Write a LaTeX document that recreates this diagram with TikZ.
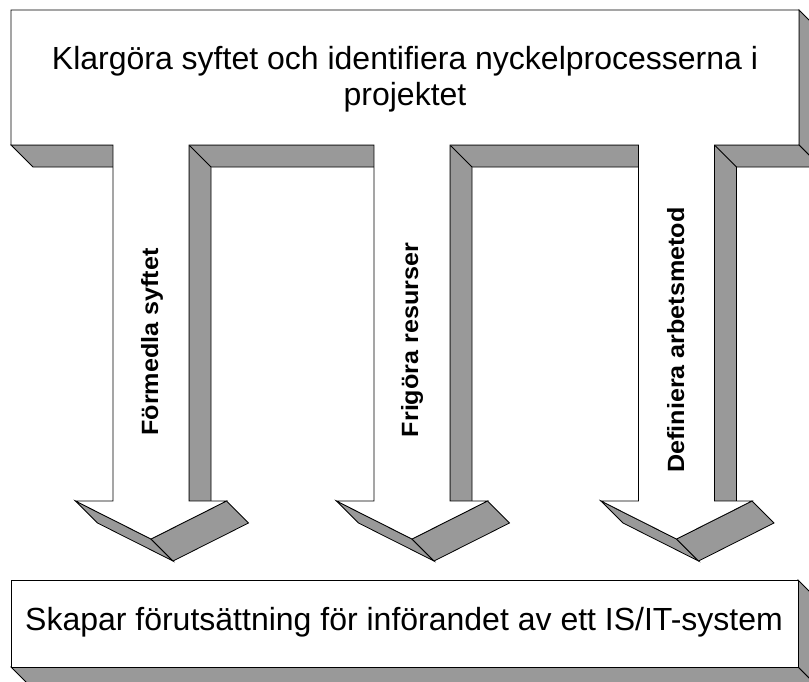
\documentclass[tikz,border=0pt]{standalone}
\usepackage{fontspec}
\setmainfont{Liberation Sans}
\definecolor{facegray}{RGB}{153,153,153}
\newcommand{\widetext}[1]{\scalebox{1.07}[1.0]{#1}}
\begin{document}
\begin{tikzpicture}[x=1pt,y=-1pt,
  face/.style={fill=facegray,draw=black,line width=0.8pt},
  front/.style={fill=white,draw=black,line width=0.8pt},
  titletext/.style={font=\fontsize{32}{36}\selectfont, align=center, inner sep=0pt},
  flowlabel/.style={font=\bfseries\fontsize{23.5}{28}\selectfont, rotate=90, anchor=base, inner sep=0pt}]
\useasboundingbox (0,0) rectangle (809,681);
\clip (0,0) rectangle (809,681);
% upper block: right side and underside
\draw[face] (799,10) -- (821,32) -- (821,167) -- (799,145) -- cycle;
\draw[face] (11,145) -- (33,167) -- (821,167) -- (799,145) -- cycle;
% shaft side faces and arrowhead undersides
\foreach \c in {151,412,676.5} {
  \draw[face] (\c+38,145) -- (\c+60,167) -- (\c+60,523) -- (\c+38,501) -- cycle;
  \draw[face] (\c-75.5,501) -- (\c,539) -- (\c+22,561) -- (\c-53.5,523) -- cycle;
  \draw[face] (\c,539) -- (\c+75.5,501) -- (\c+97.5,523) -- (\c+22,561) -- cycle;
}
% front face: block with three arrows
\draw[front] (11,10) -- (799,10) -- (799,145) -- (714.5,145) -- (714.5,501)
  -- (752,501) -- (676.5,539) -- (601,501) -- (638.5,501) -- (638.5,145)
  -- (450,145) -- (450,501) -- (487.5,501) -- (412,539) -- (336.5,501)
  -- (374,501) -- (374,145) -- (189,145) -- (189,501) -- (226.5,501)
  -- (151,539) -- (75.5,501) -- (113,501) -- (113,145) -- (11,145) -- cycle;
% lower block
\draw[face] (798,580) -- (820,602) -- (820,689) -- (798,667) -- cycle;
\draw[face] (11,667) -- (33,689) -- (820,689) -- (798,667) -- cycle;
\draw[front] (11,580) rectangle (798,667);
% texts
\node[titletext] (goal) at (405,79) {Klargöra syftet och identifiera nyckelprocesserna i\\projektet};
\node[titletext, anchor=base] (result) at (404,630) {Skapar förutsättning för införandet av ett IS/IT-system};
\node[flowlabel] (convey) at (158,342) {\widetext{Förmedla syftet}};
\node[flowlabel] (free) at (418,340) {\widetext{Frigöra resurser}};
\node[flowlabel] (method) at (684,340) {\widetext{Definiera arbetsmetod}};
\end{tikzpicture}
\end{document}
